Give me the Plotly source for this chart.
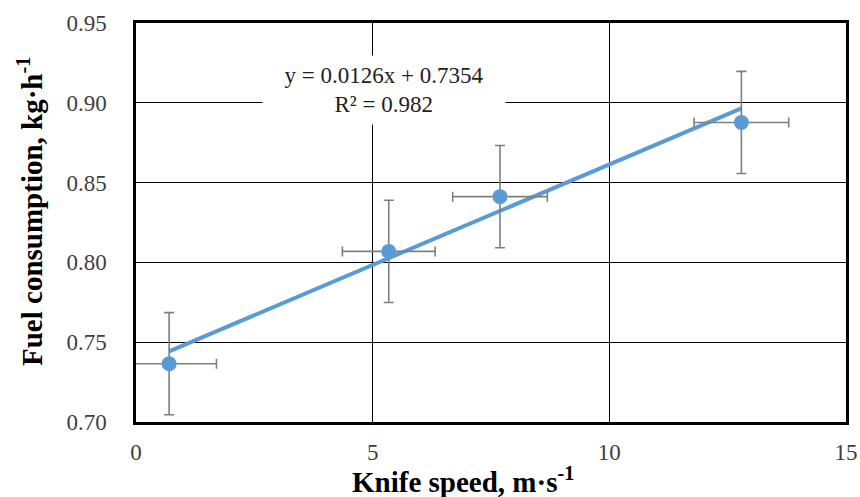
import plotly.graph_objects as go

# Data
knife_speed = [0.70, 5.34, 7.69, 12.79]
fuel_consumption = [0.7365, 0.8069, 0.8412, 0.8877]
speed_err = [1.0, 0.98, 1.0, 1.0]
fuel_err = [0.032, 0.032, 0.032, 0.032]

trend_slope = 0.0126
trend_intercept = 0.7354
r_squared = 0.982

x_ticks = [0, 5, 10, 15]
y_ticks = [0.70, 0.75, 0.80, 0.85, 0.90, 0.95]

blue = "#5B9BD5"
serif = "Liberation Serif, Times New Roman, serif"

trend_x = [min(knife_speed), max(knife_speed)]
trend_y = [trend_slope * v + trend_intercept for v in trend_x]

W, H = 860, 497
L, R, T, B = 136, 14, 23, 75
pw, ph = W - L - R, H - T - B


def px_to_paper(px, py):
    return (px - L) / pw, (H - B - py) / ph


fig = go.Figure()
fig.add_trace(go.Scatter(
    x=trend_x, y=trend_y, mode="lines",
    line=dict(color=blue, width=4), hoverinfo="skip", showlegend=False))
fig.add_trace(go.Scatter(
    x=knife_speed, y=fuel_consumption, mode="markers",
    marker=dict(color=blue, size=15),
    error_y=dict(type="data", array=fuel_err, color="#7f7f7f", thickness=1.6, width=5),
    error_x=dict(type="data", array=speed_err, color="#7f7f7f", thickness=1.6, width=5),
    showlegend=False))

# Trendline equation label with white box
fig.add_annotation(
    x=5.24, y=0.908, xref="x", yref="y",
    text=f"y = {trend_slope}x + {trend_intercept}<br>R² = {r_squared}",
    showarrow=False, font=dict(family=serif, size=23, color="#222"),
    bgcolor="white", borderpad=0, width=242, height=68, align="center")

# Axis titles as annotations (placed as in the reference)
tx, ty = px_to_paper(463, 480)
fig.add_annotation(
    x=tx, y=ty, xref="paper", yref="paper", xanchor="center", yanchor="middle",
    text="<b>Knife speed, m·s<sup>-1</sup></b>", showarrow=False,
    font=dict(family=serif, size=29, color="black"))
yx, yy = px_to_paper(30, 212)
fig.add_annotation(
    x=yx, y=yy, xref="paper", yref="paper", xanchor="center", yanchor="middle",
    text="<b>Fuel consumption, kg·h<sup>-1</sup></b>", showarrow=False, textangle=-90,
    font=dict(family=serif, size=29, color="black"))

fig.update_layout(
    width=W, height=H,
    margin=dict(l=L, r=R, t=T, b=B, autoexpand=False),
    paper_bgcolor="white", plot_bgcolor="white",
    font=dict(family=serif, size=23, color="#404040"),
)
fig.update_xaxes(
    range=[0, 15], tickvals=x_ticks, ticktext=[str(t) for t in x_ticks],
    showgrid=True, gridcolor="black", gridwidth=1,
    showline=True, linecolor="black", linewidth=2.5, mirror=True,
    zeroline=False, ticks="", ticklabelstandoff=8, automargin=False,
)
fig.update_yaxes(
    range=[0.70, 0.95], tickvals=y_ticks, ticktext=[f"{t:.2f}" for t in y_ticks],
    showgrid=True, gridcolor="black", gridwidth=1,
    showline=True, linecolor="black", linewidth=2.5, mirror=True,
    zeroline=False, ticks="", ticklabelstandoff=22, automargin=False,
)

fig.write_html(
    "out.html",
    config={"displayModeBar": False},
    post_script="document.body.style.margin='0';document.body.style.overflow='hidden';",
)
